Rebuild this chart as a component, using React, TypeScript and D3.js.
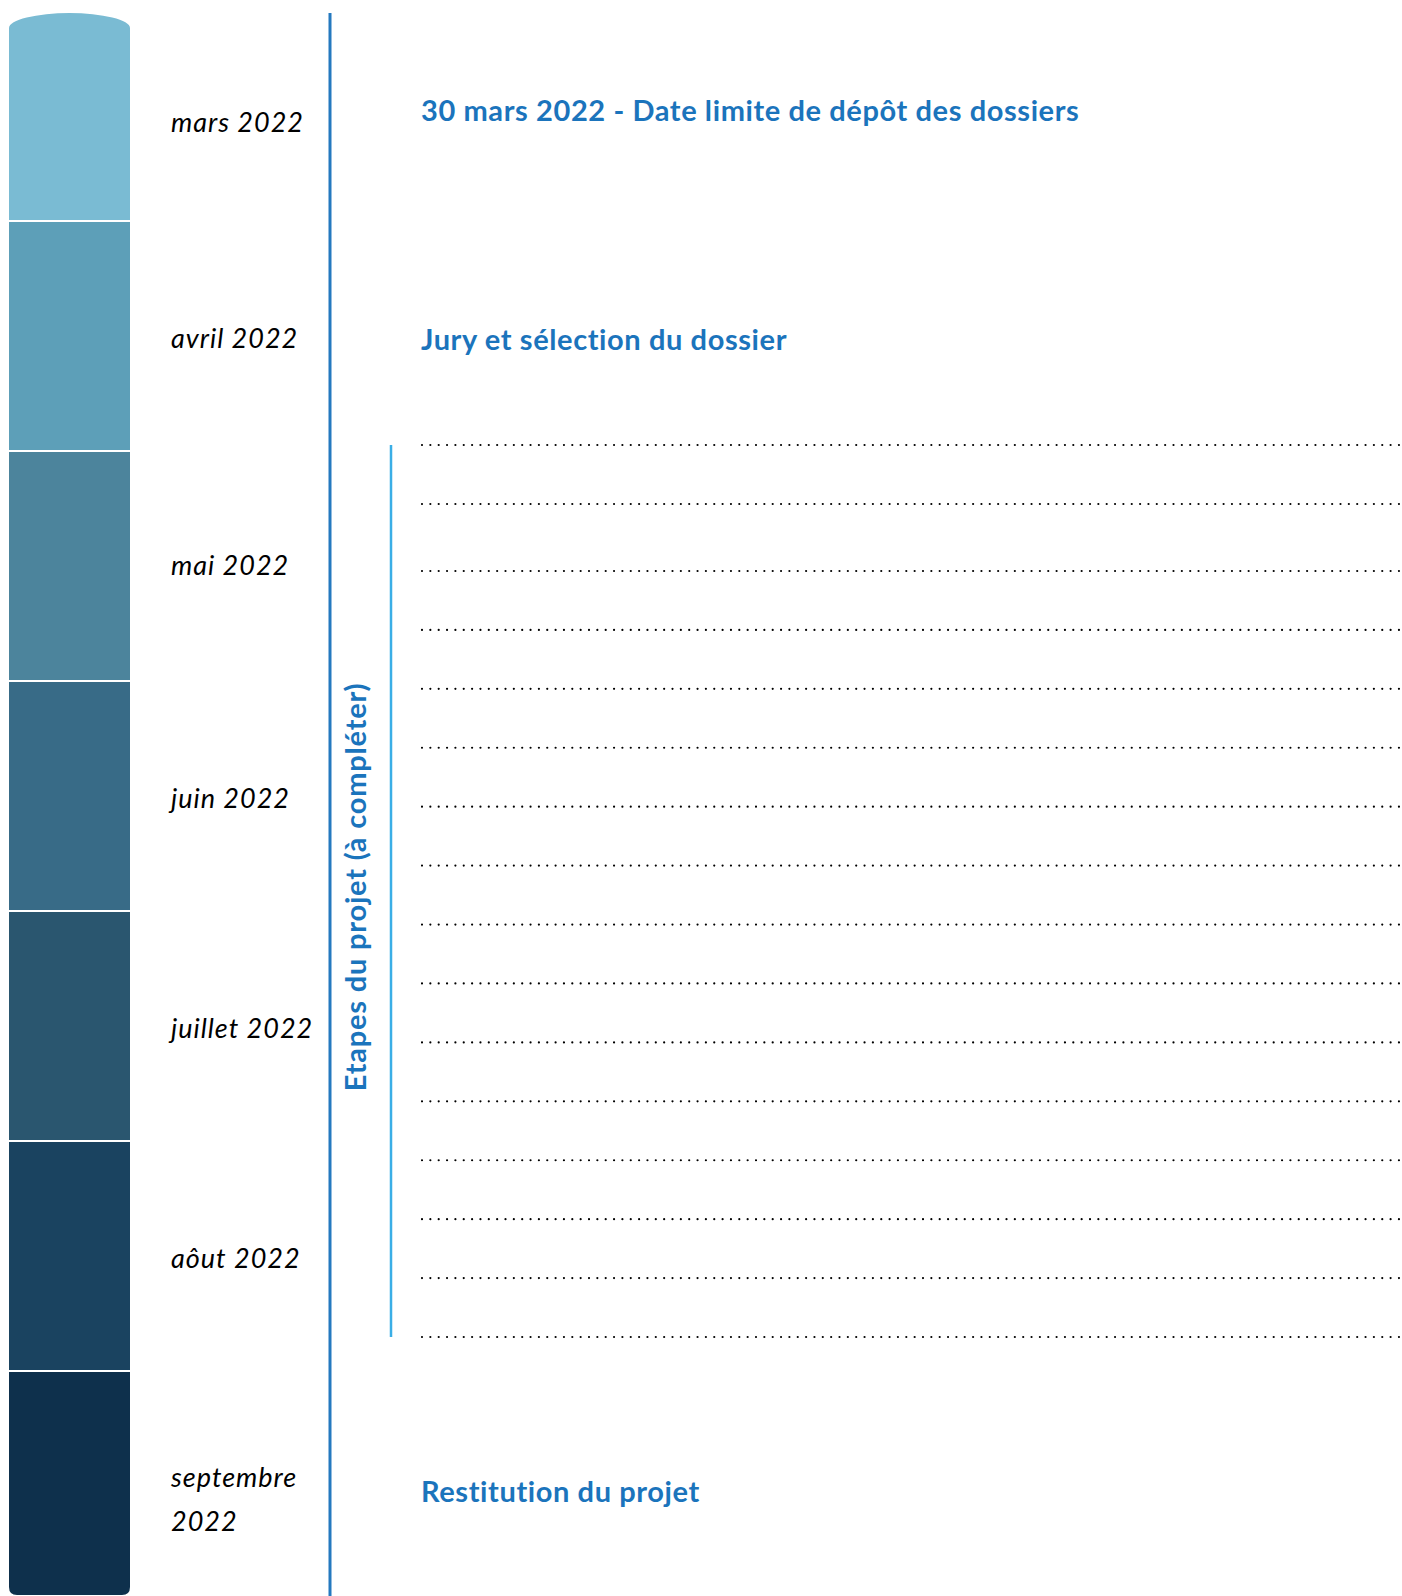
import React from "react";
import * as d3 from "d3";

const months: string[][] = [
  ["mars 2022"],
  ["avril 2022"],
  ["mai 2022"],
  ["juin 2022"],
  ["juillet 2022"],
  ["aôut 2022"],
  ["septembre", "2022"],
];
const monthColors = ["#7abbd3", "#5d9fb8", "#4c849c", "#386b87", "#2a566f", "#1a4360", "#0e304c"];
const milestones = [
  { month: 0, text: "30 mars 2022 - Date limite de dépôt des dossiers" },
  { month: 1, text: "Jury et sélection du dossier" },
  { month: 6, text: "Restitution du projet" },
];
const stepsTitle = "Etapes du projet (à compléter)";
const blankRows = d3.range(16);

const W = 1402;
const H = 1596;
const BLUE = "#1b74bc";

export default function App() {
  const y = d3.scaleLinear().domain([0, months.length]).range([-9, 1601]);
  const barX0 = 9;
  const barX1 = 130;
  const barTop = 13;
  const barBot = 1595;
  const domeH = 15;
  const r = 8;
  const clip = `M${barX0},${barTop + domeH} A${(barX1 - barX0) / 2},${domeH} 0 0 1 ${barX1},${barTop + domeH} L${barX1},${barBot - r} Q${barX1},${barBot} ${barX1 - r},${barBot} L${barX0 + r},${barBot} Q${barX0},${barBot} ${barX0},${barBot - r} Z`;

  const visCenter = (i: number) => {
    const a = Math.max(y(i), barTop);
    const b = Math.min(y(i + 1), barBot);
    return (a + b) / 2;
  };

  const rowY = d3.scaleLinear().domain([0, 1, 2, 15]).range([445, 504, 571, 1337]);
  const headingOffset = (m: number) => (m === 0 ? -3 : m === 6 ? 12 : 7);
  const monthOffset = (i: number, n: number) => (n > 1 ? -3 : i === 0 ? 8 : i === 2 ? 2 : 5);

  return (
    <svg width={W} height={H} style={{ position: "absolute", left: 0, top: 0, background: "#fff" }}>
      <defs>
        <clipPath id="barClip">
          <path d={clip} />
        </clipPath>
      </defs>
      <g clipPath="url(#barClip)">
        {months.map((_, i) => (
          <rect
            key={i}
            x={barX0}
            width={barX1 - barX0}
            y={y(i) + 1}
            height={y(i + 1) - y(i) - 2}
            fill={monthColors[i]}
          />
        ))}
      </g>
      {months.map((lines, i) => (
        <text
          key={i}
          x={171}
          y={visCenter(i) + monthOffset(i, lines.length)}
          fontFamily="Lato, 'Open Sans', sans-serif"
          fontStyle="italic"
          fontSize={27}
          letterSpacing={1}
          fill="#000"
          dominantBaseline="middle"
        >
          {lines.map((l, j) => (
            <tspan key={j} x={171} dy={j === 0 ? 0 : 44}>
              {l}
            </tspan>
          ))}
        </text>
      ))}
      <line x1={330} x2={330} y1={13} y2={H} stroke="#2479bf" strokeWidth={3} />
      {milestones.map((m, i) => (
        <text
          key={i}
          x={421}
          y={visCenter(m.month) + headingOffset(m.month)}
          fontFamily="Lato, 'Open Sans', sans-serif"
          fontWeight={700}
          fontSize={29}
          letterSpacing={0.6}
          fill={BLUE}
          dominantBaseline="middle"
        >
          {m.text}
        </text>
      ))}
      <text
        transform={`translate(359, ${(rowY(0) + rowY(15)) / 2 - 4}) rotate(-90)`}
        textAnchor="middle"
        fontFamily="Lato, 'Open Sans', sans-serif"
        fontWeight={700}
        fontSize={29}
        letterSpacing={0.8}
        fill={BLUE}
        dominantBaseline="middle"
      >
        {stepsTitle}
      </text>
      <line x1={391} x2={391} y1={rowY(0)} y2={rowY(15)} stroke="#3aaee6" strokeWidth={2.5} />
      {blankRows.map((i) => (
        <line
          key={i}
          x1={422}
          x2={1402}
          y1={rowY(i)}
          y2={rowY(i)}
          stroke="#000"
          strokeWidth={2.2}
          strokeLinecap="round"
          strokeDasharray="0 8.35"
        />
      ))}
    </svg>
  );
}
